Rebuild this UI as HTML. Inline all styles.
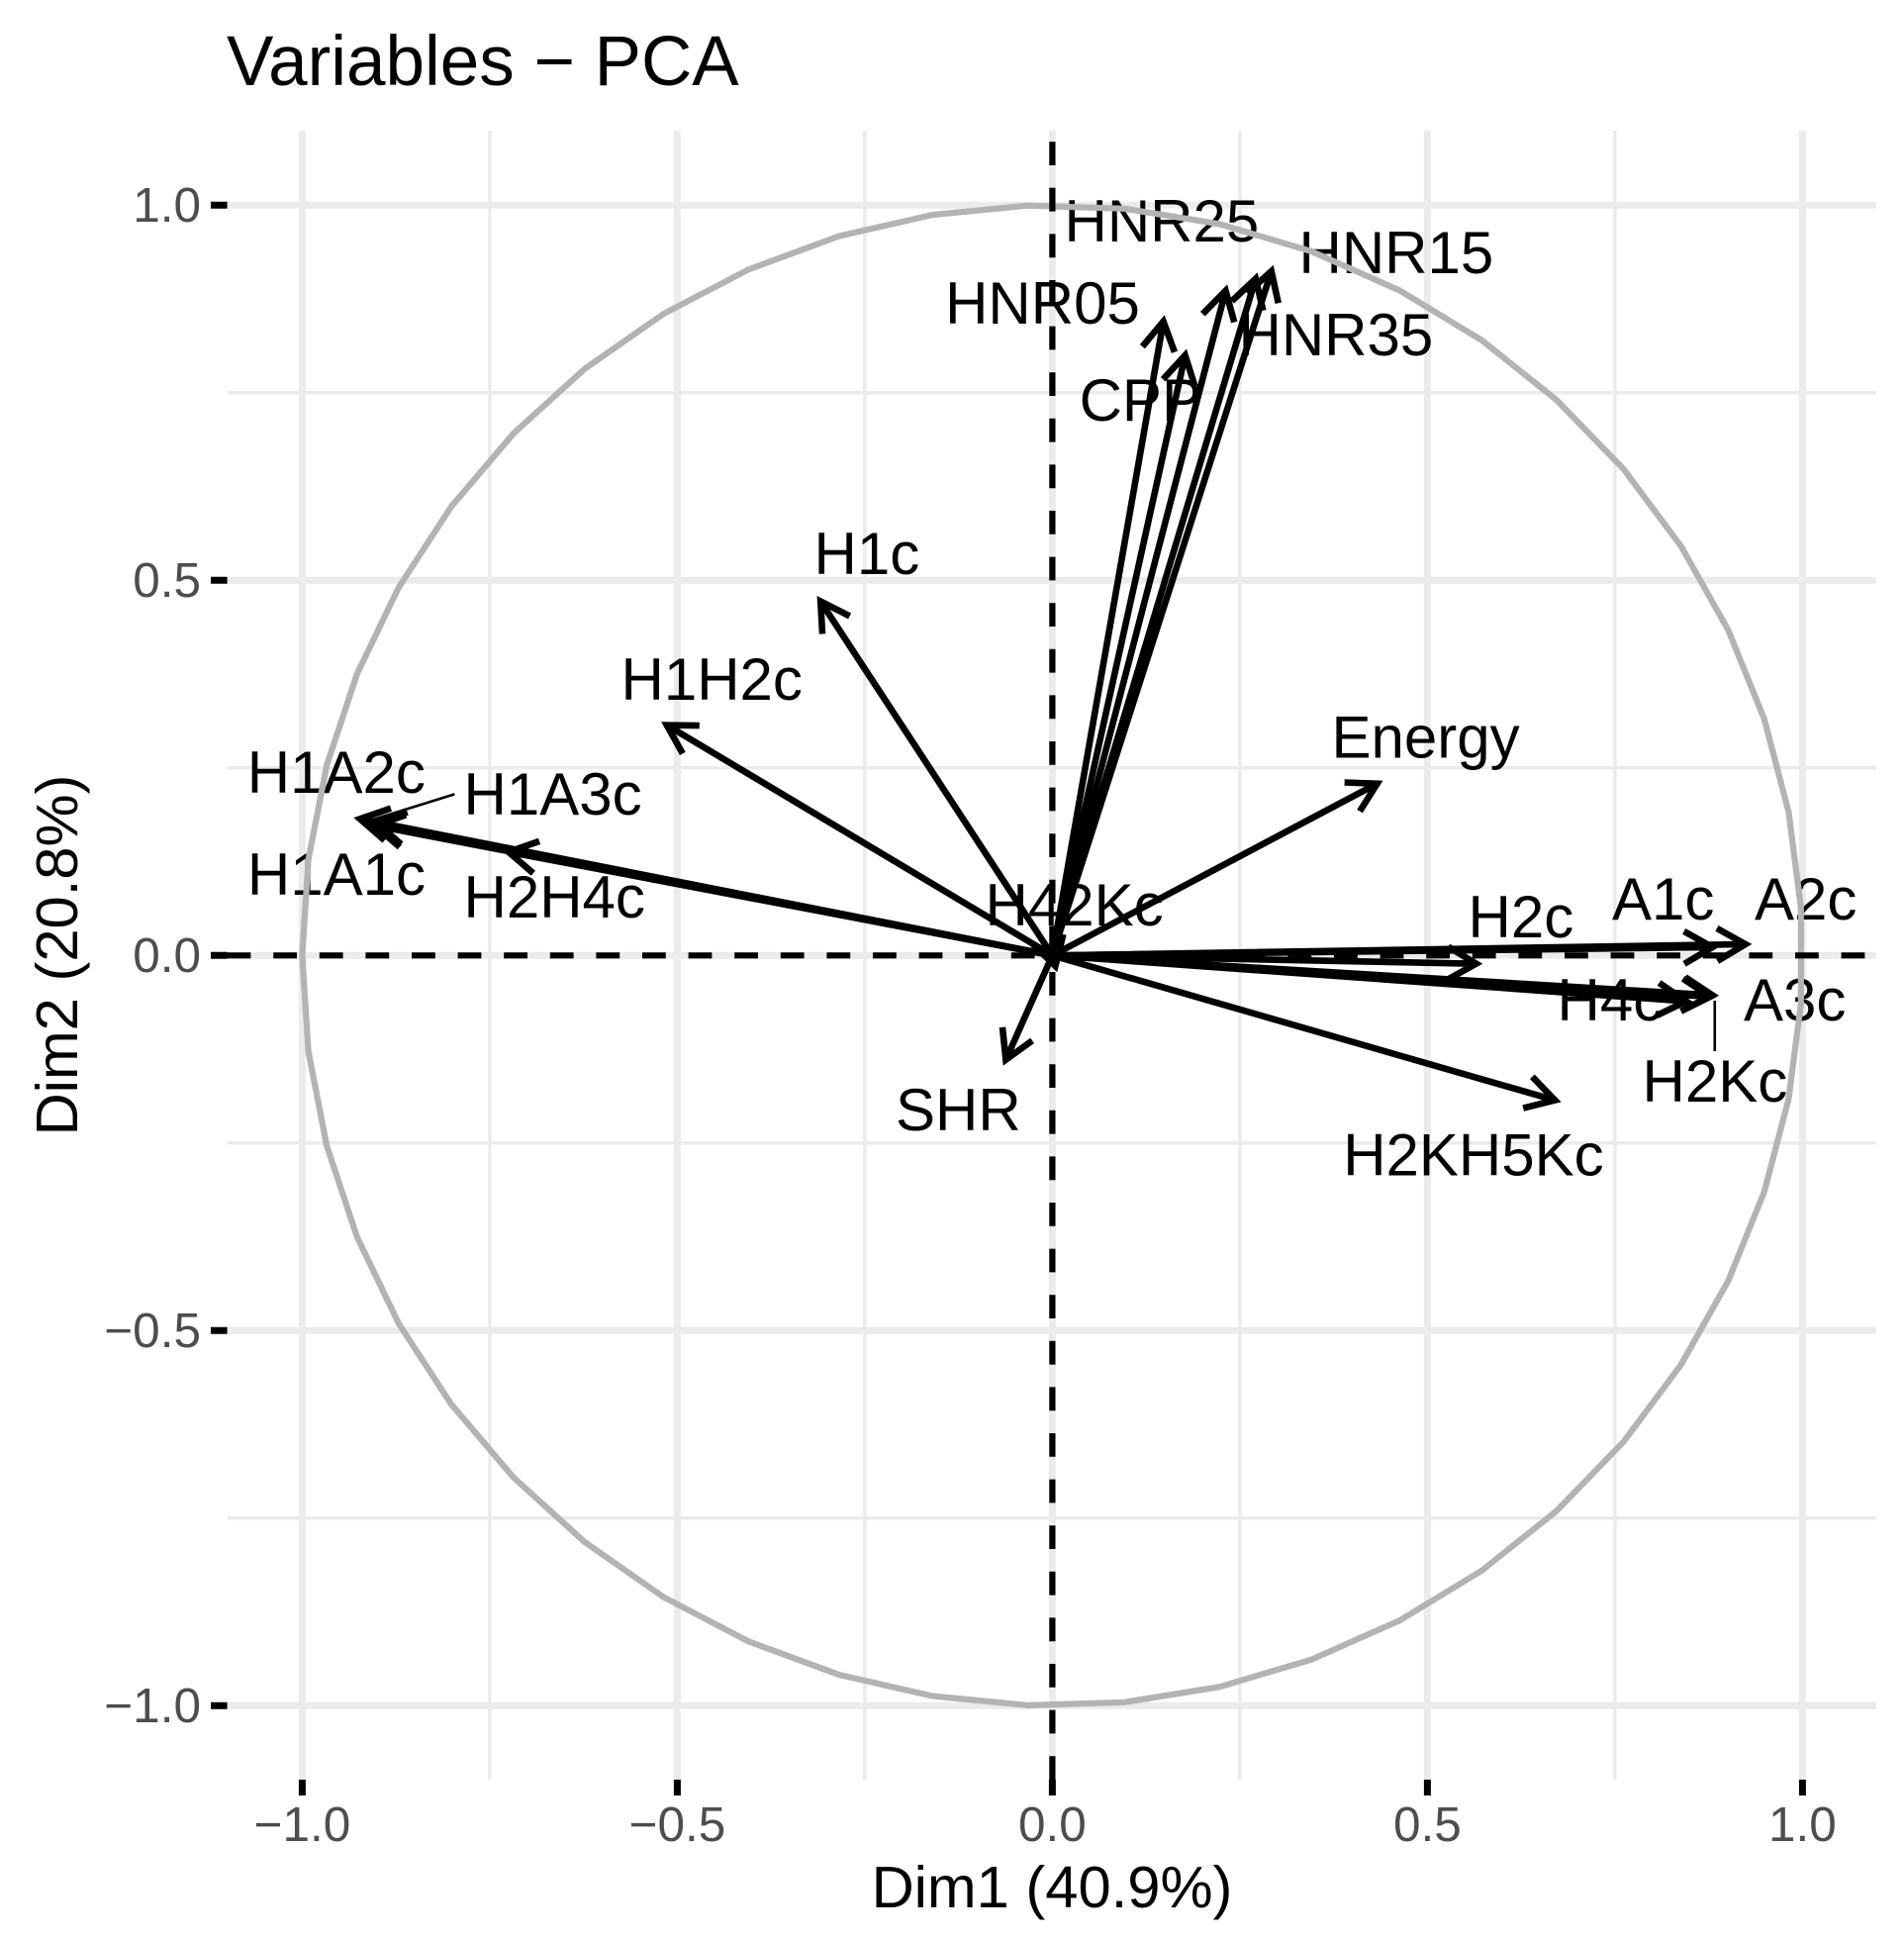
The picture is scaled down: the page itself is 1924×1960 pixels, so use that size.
<!DOCTYPE html>
<html lang="en">
<head>
<meta charset="utf-8">
<title>Variables - PCA</title>
<style>
html,body{margin:0;padding:0;background:#fff;width:1924px;height:1960px;overflow:hidden}
svg{display:block;font-family:"Liberation Sans",Arial,sans-serif}
</style>
</head>
<body>
<svg id="chart" xmlns="http://www.w3.org/2000/svg" width="1924" height="1960" viewBox="0 0 1924 1960">
  <rect x="0" y="0" width="1924" height="1960" fill="#ffffff"/>
  <g id="grid"></g>
  <g id="labels"></g>
  <g id="circle"></g>
  <g id="refs"></g>
  <g id="arrows"></g>
  <g id="axes"></g>
  <text x="229" y="86" font-size="71" fill="#000">Variables − PCA</text>
  <text x="1063" y="1927" font-size="59.7" fill="#000" text-anchor="middle">Dim1 (40.9%)</text>
  <text transform="translate(78 965) rotate(-90)" font-size="59.7" fill="#000" text-anchor="middle">Dim2 (20.8%)</text>
</svg>
<script>
const variableNames = ["HNR05","CPP","HNR25","HNR35","HNR15","H1c","H1H2c","Energy","H1A2c","H1A3c","H1A1c","H2H4c","SHR","H2KH5Kc","A2c","A1c","H2c","A3c","H2Kc","H4c","H42Kc"];
const dim1Values = [0.148,0.177,0.231,0.271,0.292,-0.309,-0.514,0.433,-0.923,-0.901,-0.903,-0.725,-0.062,0.670,0.924,0.880,0.565,0.880,0.877,0.845,0.004];
const dim2Values = [0.845,0.800,0.886,0.902,0.912,0.472,0.307,0.229,0.182,0.177,0.173,0.138,-0.139,-0.193,0.015,0.011,-0.011,-0.053,-0.055,-0.061,-0.014];
const majorTicks = [-1,-0.5,0,0.5,1];
const minorTicks = [-0.75,-0.25,0.25,0.75];
const tickLabels = ["−1.0","−0.5","0.0","0.5","1.0"];

const NS = "http://www.w3.org/2000/svg";
const panel = {left:229.6,right:1896,top:132,bottom:1798};
const unit = 758, originX = 1063.4, originY = 965.3;
function sx(v){return originX + unit*v;}
function sy(v){return originY - unit*v;}
function make(tag, attrs, parent){
  const el = document.createElementNS(NS, tag);
  for (const k in attrs) el.setAttribute(k, attrs[k]);
  parent.appendChild(el);
  return el;
}

function drawGrid(){
  const g = document.getElementById("grid");
  minorTicks.forEach(function(t){
    const v = make("line",{x1:sx(t),x2:sx(t),y1:panel.top,y2:panel.bottom,stroke:"#ebebeb","stroke-width":3.5},g);
    
    
    const h = make("line",{x1:panel.left,x2:panel.right,y1:sy(t),y2:sy(t),stroke:"#ebebeb","stroke-width":3.5},g);
    
    
  });
  majorTicks.forEach(function(t){
    const v = make("line",{x1:sx(t),x2:sx(t),y1:panel.top,y2:panel.bottom,stroke:"#ebebeb","stroke-width":7},g);
    
    
    const h = make("line",{x1:panel.left,x2:panel.right,y1:sy(t),y2:sy(t),stroke:"#ebebeb","stroke-width":7},g);
    
    
  });
}

function drawAxes(){
  const g = document.getElementById("axes");
  majorTicks.forEach(function(t,i){
    const xt = make("line",{x1:sx(t),x2:sx(t),y1:panel.bottom,y2:1814,stroke:"#000","stroke-width":7},g);
    
    
    const yt = make("line",{x1:213,x2:panel.left,y1:sy(t),y2:sy(t),stroke:"#000","stroke-width":7},g);
    
    
    const xl = make("text",{x:sx(t),y:1860,"font-size":49.5,fill:"#4d4d4d","text-anchor":"middle"},g);
    xl.textContent = tickLabels[i];
    
    
    const yl = make("text",{x:203,y:sy(t)+16.9,"font-size":49.5,fill:"#4d4d4d","text-anchor":"end"},g);
    yl.textContent = tickLabels[i];
    
    
  });
}

function drawCircle(){
  const g = document.getElementById("circle");
  const n = 50, pts = [];
  for (let k = 0; k < n; k++){
    const th = -Math.PI + k*2*Math.PI/(n-1);
    pts.push(sx(Math.cos(th)).toFixed(2)+","+sy(Math.sin(th)).toFixed(2));
  }
  const c = make("polygon",{points:pts.join(" "),fill:"none",stroke:"#b3b3b3","stroke-width":6.2},g);
  
  
}

function drawRefs(){
  const g = document.getElementById("refs");
  const h = make("line",{x1:panel.left,x2:panel.right,y1:sy(0),y2:sy(0),stroke:"#000","stroke-width":6.2,"stroke-dasharray":"23.8 22.8"},g);
  
  
  const v = make("line",{x1:sx(0),x2:sx(0),y1:panel.bottom,y2:panel.top,stroke:"#000","stroke-width":6.2,"stroke-dasharray":"23.8 22.8"},g);
  
  
}

function drawArrows(){
  const g = document.getElementById("arrows");
  const barb = 33, ang = Math.PI/6;
  variableNames.forEach(function(name,i){
    const x = sx(dim1Values[i]), y = sy(dim2Values[i]);
    const back = Math.atan2(originY - y, originX - x);
    const b1x = x + barb*Math.cos(back+ang), b1y = y + barb*Math.sin(back+ang);
    const b2x = x + barb*Math.cos(back-ang), b2y = y + barb*Math.sin(back-ang);
    const d = "M"+originX+" "+originY+"L"+x.toFixed(2)+" "+y.toFixed(2)+
      "M"+b1x.toFixed(2)+" "+b1y.toFixed(2)+"L"+x.toFixed(2)+" "+y.toFixed(2)+"L"+b2x.toFixed(2)+" "+b2y.toFixed(2);
    const a = make("path",{d:d,fill:"none",stroke:"#000","stroke-width":6.6,"stroke-linecap":"butt","stroke-linejoin":"miter","stroke-miterlimit":10},g);
    
    
  });
}

function drawLabels(){
  const g = document.getElementById("labels");
  const offset = {
    HNR05:[-220.5,2.2],CPP:[-107,66.1],HNR25:[-163,-49.7],HNR35:[-17.3,77.4],HNR15:[27.8,2],
    H1c:[-6.7,-27.5],H1H2c:[-46.3,-25.6],Energy:[-46.1,-26],H1A2c:[-114,-26.3],H1A3c:[88.1,-8.1],
    H1A1c:[-129,69.8],H2H4c:[-45.4,66.3],SHR:[-111.4,71.3],H2KH5Kc:[-214.1,75.7],A2c:[9.2,-24.9],
    A1c:[-101.4,-28],H2c:[-8.2,-26.6],A3c:[31.6,25.5],H2Kc:[-68.7,106],H4c:[-130.4,19.5],H42Kc:[-70.9,-40.9]
  };
  const leaders = {H1A3c:[[-7,-2],[78.9,-28.8]],H2Kc:[[4.6,4],[4.6,55]]};
  variableNames.forEach(function(name,i){
    const x = sx(dim1Values[i]), y = sy(dim2Values[i]);
    const t = make("text",{x:(x+offset[name][0]).toFixed(1),y:(y+offset[name][1]).toFixed(1),"font-size":60,fill:"#000"},g);
    t.textContent = name;
    
    
    if (leaders[name]){
      const p = leaders[name];
      const l = make("line",{x1:x+p[0][0],y1:y+p[0][1],x2:x+p[1][0],y2:y+p[1][1],stroke:"#000","stroke-width":2.6},g);
      
      
    }
  });
}

drawGrid();
drawLabels();
drawCircle();
drawRefs();
drawArrows();
drawAxes();
</script>
</body>
</html>
